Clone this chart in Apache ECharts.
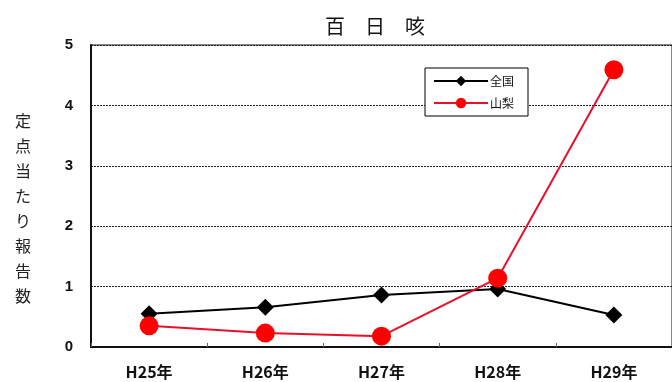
<!DOCTYPE html>
<html>
<head>
<meta charset="utf-8">
<script src="https://cdn.jsdelivr.net/npm/echarts@6/dist/echarts.min.js"></script>
<style>
  html, body { margin: 0; padding: 0; background: #fff; }
  #chart { width: 672px; height: 382px; }
</style>
</head>
<body>
<div id="chart"></div>
<script>
// 百日咳 定点当たり報告数（全国・山梨）
const years = ['H25年', 'H26年', 'H27年', 'H28年', 'H29年'];
const national = [0.55, 0.66, 0.86, 0.96, 0.53];
const yamanashi = [0.35, 0.23, 0.18, 1.14, 4.59];
const seriesNames = ['全国', '山梨'];
const yAxisTitle = '定点当たり報告数';

const jp = '"Noto Sans CJK JP", "Noto Sans", sans-serif';
const chart = echarts.init(document.getElementById('chart'), null, { renderer: 'canvas' });

chart.setOption({
  animation: false,
  backgroundColor: '#ffffff',
  title: {
    text: '百　日　咳',
    left: 370,
    textAlign: 'center',
    top: 11,
    textStyle: { fontFamily: jp, fontSize: 20, fontWeight: 'normal', color: '#111' }
  },
  legend: {
    orient: 'vertical',
    left: 425,
    top: 68,
    padding: [7, 14, 7, 8],
    itemGap: 10,
    itemWidth: 54,
    itemHeight: 13,
    borderColor: '#000',
    borderWidth: 1,
    backgroundColor: '#fff',
    textStyle: { fontFamily: jp, fontSize: 12, color: '#111', padding: [0, 0, 0, -3] },
    data: [seriesNames[0], seriesNames[1]]
  },
  grid: {
    left: 91,
    top: 45,
    right: -6,
    bottom: 35,
    show: true,
    borderColor: '#888',
    borderWidth: 2,
    backgroundColor: '#fff'
  },
  xAxis: {
    type: 'category',
    data: years,
    boundaryGap: true,
    axisLine: { lineStyle: { color: '#111', width: 2 } },
    axisTick: { show: true, inside: true, length: 4, lineStyle: { color: '#666', width: 1 } },
    axisLabel: { fontFamily: jp, fontSize: 16, fontWeight: 'bold', color: '#111', margin: 17 }
  },
  yAxis: {
    type: 'value',
    min: 0,
    max: 5,
    interval: 1,
    // one blank line on top pushes the stacked title a little below the axis centre
    name: '\n' + yAxisTitle.split('').join('\n'),
    nameLocation: 'middle',
    nameRotate: 0,
    nameGap: 60,
    nameTextStyle: { fontFamily: jp, fontSize: 16, color: '#222', lineHeight: 25 },
    axisLine: { show: true, lineStyle: { color: '#111', width: 2 } },
    axisTick: { show: false },
    axisLabel: { fontFamily: 'Liberation Sans, Arial, sans-serif', fontSize: 15, fontWeight: 'bold', color: '#111', margin: 18 },
    splitLine: { show: true, lineStyle: { color: '#222', type: [2, 1], width: 1 } }
  },
  series: [
    {
      name: seriesNames[0],
      type: 'line',
      data: national,
      symbol: 'diamond',
      symbolSize: 17,
      lineStyle: { color: '#000', width: 2 },
      itemStyle: { color: '#000' },
      z: 3
    },
    {
      name: seriesNames[1],
      type: 'line',
      data: yamanashi,
      symbol: 'circle',
      symbolSize: 19,
      lineStyle: { color: '#e8102a', width: 2 },
      itemStyle: { color: '#ff0000' },
      z: 4
    }
  ]
});
</script>
</body>
</html>
